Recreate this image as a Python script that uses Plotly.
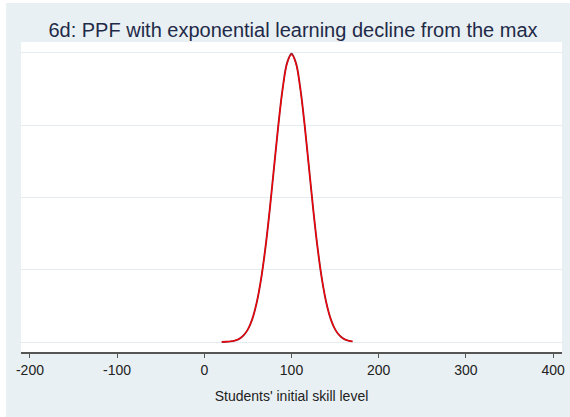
import plotly.graph_objects as go

# students' initial skill level (x) and the two estimated density curves
skill = [20, 25, 30, 35, 40, 45, 50, 55, 60, 65, 70, 75, 80, 85, 90, 95, 100,
         105, 110, 115, 120, 125, 130, 135, 140, 145, 150, 155, 160, 165, 170]
density_dark = [0.0000067, 0.0000176, 0.0000436, 0.000101, 0.000222, 0.000455,
                0.000876, 0.001587, 0.002700, 0.004315, 0.006476, 0.009132,
                0.012099, 0.015057, 0.017603, 0.019333, 0.019947, 0.019333,
                0.017603, 0.015057, 0.012099, 0.009132, 0.006476, 0.004315,
                0.002700, 0.001587, 0.000876, 0.000455, 0.000222, 0.000101,
                0.0000436]
density_red = [0.0000075, 0.0000190, 0.0000460, 0.000105, 0.000228, 0.000463,
               0.000886, 0.001598, 0.002712, 0.004326, 0.006484, 0.009133,
               0.012090, 0.015030, 0.017555, 0.019263, 0.019865, 0.019263,
               0.017555, 0.015030, 0.012090, 0.009133, 0.006484, 0.004326,
               0.002712, 0.001598, 0.000886, 0.000463, 0.000228, 0.000105,
               0.0000460]
x_ticks = [-200, -100, 0, 100, 200, 300, 400]
y_grid = [0, 0.005, 0.01, 0.015, 0.02]

bg = "#e9f0f3"
fig = go.Figure()

fig.add_trace(go.Scatter(x=skill, y=density_dark, mode="lines", line_shape="spline",
                         line=dict(color="#9e1b2c", width=1.9), showlegend=False))
fig.add_trace(go.Scatter(x=skill, y=density_red, mode="lines", line_shape="spline",
                         line=dict(color="#ff0000", width=1), showlegend=False))

# thin white strips at the left and top edge of the page
fig.add_shape(type="rect", xref="paper", yref="paper",
              x0=-0.05, x1=-0.0276, y0=-0.3, y1=1.2,
              fillcolor="white", line=dict(width=0))
fig.add_shape(type="rect", xref="paper", yref="paper",
              x0=-0.05, x1=1.05, y0=1.1258, y1=1.2,
              fillcolor="white", line=dict(width=0))

fig.update_layout(
    width=570, height=417,
    margin=dict(l=21, r=5, t=42, b=65),
    paper_bgcolor=bg,
    plot_bgcolor="white",
    font=dict(family="Liberation Sans, Arial", size=14, color="#222"),
    title=dict(text="6d: PPF with exponential learning decline from the max",
               x=0.514, xanchor="center", y=0.928, yanchor="middle",
               font=dict(size=20, color="#1f2a48")),
)

fig.update_xaxes(
    range=[-210.27, 410.27], tickvals=x_ticks, ticktext=[str(t) for t in x_ticks],
    showgrid=False, zeroline=False, showline=True, linecolor="#555", linewidth=1.5,
    ticks="outside", ticklen=4, tickcolor="#555", tickfont=dict(size=14, color="#222"),
    title=dict(text="Students' initial skill level", font=dict(size=14, color="#222"),
               standoff=15),
)
fig.update_yaxes(
    range=[-0.00069, 0.02076], tickvals=y_grid, showticklabels=False,
    showgrid=True, gridcolor="#e3ecf0", gridwidth=1.2, zeroline=False, showline=False,
)

fig.write_html("out.html", config={"displayModeBar": False},
               post_script="document.body.style.margin='0';")
